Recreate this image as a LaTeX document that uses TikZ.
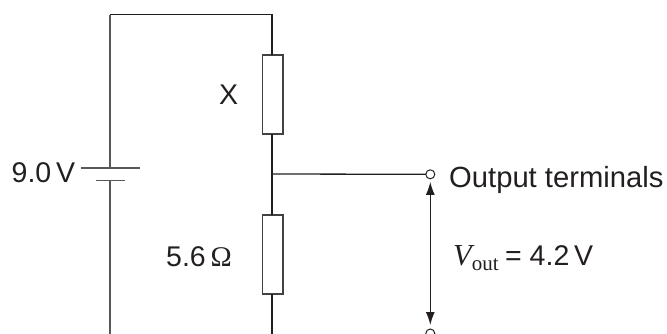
\documentclass[tikz,border=0pt]{standalone}
\usepackage{fontspec}
\setmainfont{Liberation Sans}
\newfontfamily\serifface{Liberation Serif}
\usetikzlibrary{arrows.meta}
\definecolor{ink}{HTML}{231F20}
\tikzset{
  x=1pt,y=-1pt,
  wire/.style={draw=ink,line width=1.3pt},
  thick wire/.style={draw=ink!75,line width=2pt},
  plate/.style={draw=ink!75,line width=1.5pt},
  resistor/.style={draw=ink!85,line width=1.3pt,fill=white,minimum width=20.5pt,minimum height=79pt,inner sep=0pt,outer sep=0pt},
  terminal/.style={circle,draw=ink,line width=1pt,fill=white,minimum size=9pt,inner sep=0pt,outer sep=0pt},
  label/.style={text=ink,font=\fontsize{28.5}{32}\selectfont,inner sep=0pt,anchor=base west},
  measure/.style={draw=ink,line width=1.3pt,{Latex[length=13pt,width=9pt]}-{Latex[length=13pt,width=9pt]}}
}
\begin{document}
\begin{tikzpicture}
\useasboundingbox (0,0) rectangle (667,333);
\clip (0,0) rectangle (667,333);
\coordinate (topL) at (110,14.5);
\coordinate (topR) at (272,14.5);
\coordinate (botL) at (110,340);
\coordinate (botR) at (272,340);
\coordinate (junc) at (272,174);
\coordinate (battTop) at (110,168);
\coordinate (battBot) at (110,180.5);
\coordinate (p1) at (80.5,168);
\coordinate (p2) at (140,168);
\coordinate (n1) at (95.5,180.5);
\coordinate (n2) at (125,180.5);
\node[resistor] (rx) at (272.8,94.5) {};
\node[resistor] (r56) at (272.8,254.5) {};
\node[terminal] (t1) at (430.3,174.3) {};
\node[terminal] (t2) at (430.3,333.5) {};
\draw[thick wire] (battTop) -- (topL);
\draw[wire] (topL) -- (topR) -- (topR |- rx.north);
\draw[wire] (topR |- rx.south) -- (topR |- r56.north);
\draw[wire] (topR |- r56.south) -- (botR);
\draw[thick wire] (battBot) -- (botL);
\draw[plate] (p1) -- (p2);
\draw[plate] (n1) -- (n2);
\draw[wire] (junc) -- (t1.west);
\path (t1.south) ++(0,3) coordinate (a1) (t2.north) ++(0,-4) coordinate (a2);
\draw[measure] (a1) -- (a2);
\node[label] (lx) at (219,104) {X};
\node[label] (l9) at (11.5,182.7) {9.0\,V};
\node[label] (l56) at (166,266) {5.6\,{\serifface Ω}};
\node[label,font=\fontsize{29.2}{32}\selectfont] (lo) at (449,187.7) {Output terminals};
\node[label] (lv) at (453,265) {{\serifface\itshape\fontsize{30.5}{32}\selectfont V}\raisebox{-5pt}{\serifface\fontsize{21}{22}\selectfont out}};
\node[label] (lq) at (505,265) {= 4.2\,V};
\end{tikzpicture}
\end{document}
